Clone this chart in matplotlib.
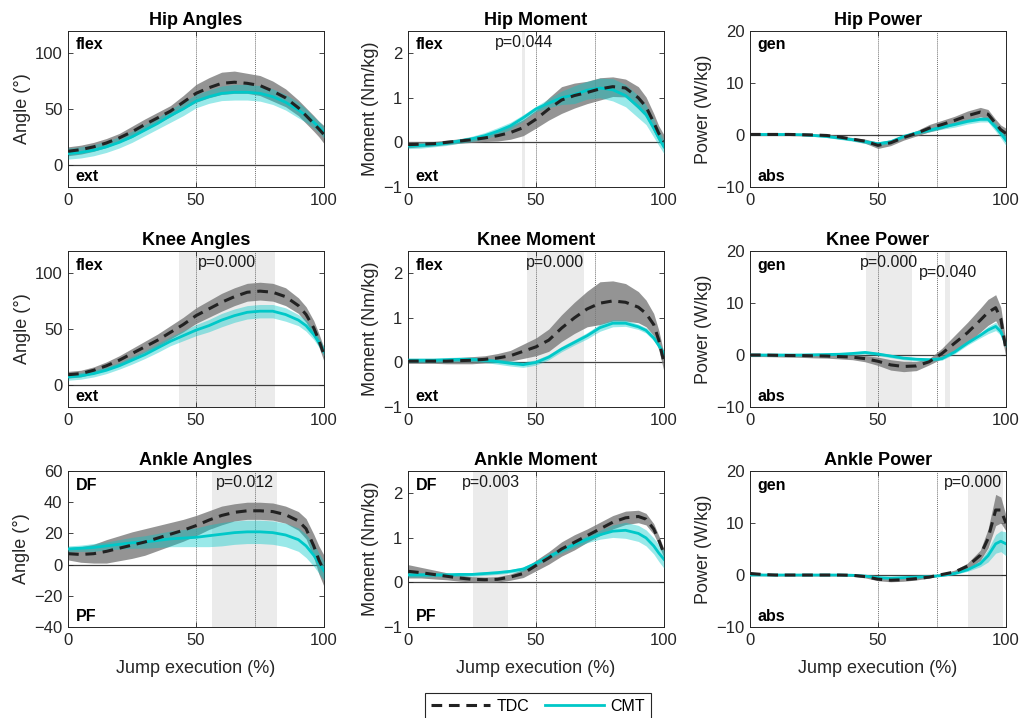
import matplotlib
matplotlib.use("Agg")
import matplotlib.pyplot as plt
import numpy as np

plt.rcParams["font.family"] = ["Liberation Sans", "DejaVu Sans"]

# Percent of jump execution where values were read
x = [0, 5, 10, 15, 20, 25, 30, 35, 40, 45, 50, 55, 60, 65, 70, 75, 80, 85, 90, 93, 96, 98, 100]

# Hip angles
hip_ang_tdc = [12, 13.5, 16, 19.5, 24, 29.5, 36, 42, 48, 56, 64, 69, 73, 74, 73, 71, 66, 60, 51, 44, 37, 32, 27]
hip_ang_tdc_sd = [4, 4, 4, 4, 4, 5, 5, 5, 5, 6, 8, 9, 10, 10, 9, 9, 9, 8, 7, 7, 7, 7, 8]
hip_ang_cmt = [10, 11, 13, 16, 20, 25, 31, 37, 44, 50, 57, 61, 64, 65, 65, 64, 61, 56, 49, 44, 38, 34, 29]
hip_ang_cmt_sd = [5, 5, 5, 5, 5, 5, 5, 5, 6, 6, 6, 6, 6.5, 7, 7, 7, 7, 7, 7, 6, 5, 5, 5]

# Hip moment
hip_mom_tdc = [-0.05, -0.04, -0.03, 0.0, 0.03, 0.06, 0.1, 0.15, 0.22, 0.33, 0.52, 0.75, 0.95, 1.05, 1.12, 1.2, 1.25, 1.22, 1.0, 0.8, 0.45, 0.2, 0.02]
hip_mom_tdc_sd = [0.07, 0.06, 0.05, 0.05, 0.05, 0.06, 0.08, 0.12, 0.15, 0.18, 0.2, 0.25, 0.3, 0.28, 0.25, 0.25, 0.22, 0.2, 0.25, 0.22, 0.2, 0.17, 0.15]
hip_mom_cmt = [-0.08, -0.07, -0.05, -0.02, 0.03, 0.08, 0.15, 0.25, 0.37, 0.55, 0.75, 0.88, 1.0, 1.07, 1.17, 1.22, 1.18, 1.05, 0.8, 0.62, 0.32, 0.1, -0.1]
hip_mom_cmt_sd = [0.06, 0.06, 0.05, 0.05, 0.05, 0.06, 0.07, 0.08, 0.08, 0.07, 0.06, 0.1, 0.15, 0.2, 0.2, 0.22, 0.25, 0.25, 0.25, 0.22, 0.2, 0.17, 0.15]

# Hip power
hip_pow_tdc = [0.1, 0.1, 0.1, 0.1, 0.05, 0.0, -0.1, -0.4, -0.8, -1.2, -2.0, -1.5, -0.5, 0.3, 1.3, 2.0, 2.8, 3.7, 4.4, 4.0, 2.2, 1.0, 0.3]
hip_pow_tdc_sd = [0.2, 0.2, 0.2, 0.2, 0.2, 0.2, 0.25, 0.3, 0.3, 0.4, 0.6, 0.55, 0.5, 0.5, 0.7, 0.8, 0.8, 0.9, 0.9, 0.9, 0.8, 0.9, 1.0]
hip_pow_cmt = [0.1, 0.1, 0.1, 0.1, 0.05, -0.1, -0.3, -0.6, -0.9, -1.3, -1.7, -1.3, -0.3, 0.4, 0.9, 1.5, 2.0, 2.6, 3.0, 3.0, 1.5, 0.3, -1.0]
hip_pow_cmt_sd = [0.15, 0.15, 0.15, 0.15, 0.15, 0.2, 0.2, 0.25, 0.3, 0.35, 0.4, 0.35, 0.3, 0.3, 0.35, 0.4, 0.5, 0.5, 0.5, 0.5, 0.8, 0.9, 1.0]

# Knee angles
knee_ang_tdc = [9, 10, 13, 17, 22, 28, 34, 40, 47, 54, 62, 68, 74, 79, 83, 84, 83, 79, 71, 63, 51, 40, 27]
knee_ang_tdc_sd = [3, 3, 3, 3.5, 4, 4.5, 5, 5.5, 6, 6.5, 7, 7.5, 8, 8, 8, 8, 8, 8, 7, 7, 6.5, 6, 6]
knee_ang_cmt = [7, 8, 10, 13, 17, 22, 27, 33, 39, 44, 49, 53, 58, 62, 65, 66, 66, 63, 58, 53, 45, 38, 30]
knee_ang_cmt_sd = [3, 3, 3, 3, 3, 3.5, 3.5, 4, 4, 4.5, 5, 5.5, 6, 6, 6, 6, 6, 6, 5, 5, 4.5, 4, 4]

# Knee moment
knee_mom_tdc = [0.03, 0.03, 0.03, 0.03, 0.04, 0.05, 0.07, 0.1, 0.15, 0.25, 0.35, 0.5, 0.77, 1.0, 1.2, 1.33, 1.38, 1.35, 1.24, 1.1, 0.85, 0.5, 0.0]
knee_mom_tdc_sd = [0.05, 0.05, 0.05, 0.06, 0.07, 0.08, 0.08, 0.1, 0.12, 0.16, 0.2, 0.25, 0.3, 0.35, 0.4, 0.48, 0.45, 0.42, 0.35, 0.3, 0.25, 0.22, 0.2]
knee_mom_cmt = [0.05, 0.05, 0.05, 0.06, 0.07, 0.07, 0.05, 0.02, -0.02, -0.05, 0.0, 0.12, 0.3, 0.45, 0.6, 0.78, 0.88, 0.88, 0.8, 0.72, 0.55, 0.38, 0.2]
knee_mom_cmt_sd = [0.05, 0.05, 0.05, 0.05, 0.05, 0.05, 0.05, 0.06, 0.06, 0.06, 0.06, 0.06, 0.06, 0.06, 0.07, 0.08, 0.08, 0.07, 0.06, 0.06, 0.06, 0.06, 0.06]

# Knee power
knee_pow_tdc = [0.0, 0.0, -0.05, -0.1, -0.1, -0.15, -0.2, -0.3, -0.4, -0.7, -1.2, -1.9, -2.2, -2.1, -1.3, 0.3, 2.3, 4.3, 6.7, 8.2, 9.1, 7.0, 1.0]
knee_pow_tdc_sd = [0.3, 0.3, 0.3, 0.3, 0.35, 0.4, 0.4, 0.45, 0.5, 0.6, 0.8, 1.0, 1.0, 0.9, 0.6, 1.0, 1.5, 2.0, 2.3, 2.5, 2.5, 2.2, 1.5]
knee_pow_cmt = [0.0, 0.0, 0.0, 0.0, 0.0, 0.05, 0.1, 0.15, 0.3, 0.5, 0.2, -0.2, -0.6, -0.8, -0.9, -0.7, 0.6, 2.3, 3.8, 4.8, 5.5, 4.5, 2.0]
knee_pow_cmt_sd = [0.2, 0.2, 0.2, 0.2, 0.2, 0.2, 0.2, 0.25, 0.25, 0.3, 0.3, 0.3, 0.3, 0.3, 0.3, 0.3, 0.35, 0.4, 0.5, 0.7, 0.8, 0.7, 0.6]

# Ankle angles
ank_ang_tdc = [7, 6.5, 7, 8.5, 10.5, 12.5, 14.5, 17, 19.5, 22, 25, 28.5, 31.5, 33.5, 34.5, 34.5, 34, 32, 28, 23, 12, 3, -4]
ank_ang_tdc_sd = [4, 5, 6, 7.5, 8, 8.5, 8.5, 8, 7.5, 7, 6.5, 6, 6, 5.5, 5.5, 5.5, 5.5, 5.5, 6, 6.5, 7.5, 9, 10]
ank_ang_cmt = [10, 10.5, 11, 12, 13, 14, 14.5, 15.5, 16.5, 17, 17.5, 18.5, 19.5, 20.5, 21, 21, 20.5, 19, 16, 12, 6, 1, -4]
ank_ang_cmt_sd = [2, 2, 2.5, 2.5, 3, 3.5, 4, 4.5, 5, 5.5, 6, 7, 7.5, 7.5, 7.5, 7.5, 7.5, 7.5, 7.5, 7.5, 7, 6.5, 6]

# Ankle moment
ank_mom_tdc = [0.25, 0.22, 0.18, 0.14, 0.1, 0.07, 0.06, 0.07, 0.12, 0.2, 0.38, 0.55, 0.75, 0.9, 1.05, 1.2, 1.35, 1.45, 1.48, 1.42, 1.2, 0.95, 0.65]
ank_mom_tdc_sd = [0.15, 0.12, 0.1, 0.08, 0.07, 0.06, 0.06, 0.06, 0.07, 0.09, 0.12, 0.14, 0.16, 0.17, 0.15, 0.15, 0.15, 0.15, 0.14, 0.13, 0.12, 0.1, 0.1]
ank_mom_cmt = [0.17, 0.17, 0.17, 0.17, 0.18, 0.18, 0.2, 0.22, 0.25, 0.3, 0.43, 0.58, 0.72, 0.85, 0.97, 1.07, 1.15, 1.17, 1.1, 1.0, 0.82, 0.66, 0.52]
ank_mom_cmt_sd = [0.05, 0.05, 0.04, 0.04, 0.04, 0.04, 0.04, 0.04, 0.04, 0.05, 0.05, 0.06, 0.06, 0.07, 0.08, 0.1, 0.14, 0.18, 0.18, 0.18, 0.18, 0.19, 0.2]

# Ankle power
ank_pow_tdc = [0.3, 0.1, 0.0, 0.0, 0.0, 0.0, 0.0, 0.0, -0.05, -0.3, -0.8, -1.0, -0.9, -0.7, -0.4, 0.1, 0.6, 1.7, 3.8, 7.0, 12.5, 12.5, 10.0]
ank_pow_tdc_sd = [0.3, 0.2, 0.15, 0.15, 0.15, 0.15, 0.15, 0.15, 0.2, 0.25, 0.3, 0.3, 0.3, 0.25, 0.2, 0.2, 0.35, 0.6, 1.0, 1.8, 3.0, 2.5, 1.5]
ank_pow_cmt = [0.0, 0.0, 0.0, 0.0, 0.0, 0.0, 0.0, 0.0, -0.05, -0.2, -0.5, -0.6, -0.5, -0.4, -0.3, -0.1, 0.3, 1.0, 2.2, 3.7, 6.0, 6.5, 6.0]
ank_pow_cmt_sd = [0.1, 0.1, 0.1, 0.1, 0.1, 0.1, 0.1, 0.1, 0.1, 0.15, 0.2, 0.2, 0.2, 0.15, 0.15, 0.15, 0.2, 0.3, 0.6, 1.2, 1.8, 2.0, 2.3]

# significant regions (start, end, label)
hip_mom_sig = [(44.7, 45.9, "p=0.044")]
knee_ang_sig = [(43.2, 80.9, "p=0.000")]
knee_mom_sig = [(46.4, 68.7, "p=0.000")]
knee_pow_sig = [(45.5, 63.5, "p=0.000"), (76.3, 78.3, "p=0.040")]
ank_ang_sig = [(56.3, 81.8, "p=0.012")]
ank_mom_sig = [(25.5, 39.0, "p=0.003")]
ank_pow_sig = [(85.0, 98.8, "p=0.000")]

event_lines = [50, 73]

panels = [
    ("Hip Angles", "Angle (°)", (-20, 120), [0, 50, 100], ("flex", "ext"),
     hip_ang_tdc, hip_ang_tdc_sd, hip_ang_cmt, hip_ang_cmt_sd, []),
    ("Hip Moment", "Moment (Nm/kg)", (-1, 2.5), [-1, 0, 1, 2], ("flex", "ext"),
     hip_mom_tdc, hip_mom_tdc_sd, hip_mom_cmt, hip_mom_cmt_sd, hip_mom_sig),
    ("Hip Power", "Power (W/kg)", (-10, 20), [-10, 0, 10, 20], ("gen", "abs"),
     hip_pow_tdc, hip_pow_tdc_sd, hip_pow_cmt, hip_pow_cmt_sd, []),
    ("Knee Angles", "Angle (°)", (-20, 120), [0, 50, 100], ("flex", "ext"),
     knee_ang_tdc, knee_ang_tdc_sd, knee_ang_cmt, knee_ang_cmt_sd, knee_ang_sig),
    ("Knee Moment", "Moment (Nm/kg)", (-1, 2.5), [-1, 0, 1, 2], ("flex", "ext"),
     knee_mom_tdc, knee_mom_tdc_sd, knee_mom_cmt, knee_mom_cmt_sd, knee_mom_sig),
    ("Knee Power", "Power (W/kg)", (-10, 20), [-10, 0, 10, 20], ("gen", "abs"),
     knee_pow_tdc, knee_pow_tdc_sd, knee_pow_cmt, knee_pow_cmt_sd, knee_pow_sig),
    ("Ankle Angles", "Angle (°)", (-40, 60), [-40, -20, 0, 20, 40, 60], ("DF", "PF"),
     ank_ang_tdc, ank_ang_tdc_sd, ank_ang_cmt, ank_ang_cmt_sd, ank_ang_sig),
    ("Ankle Moment", "Moment (Nm/kg)", (-1, 2.5), [-1, 0, 1, 2], ("DF", "PF"),
     ank_mom_tdc, ank_mom_tdc_sd, ank_mom_cmt, ank_mom_cmt_sd, ank_mom_sig),
    ("Ankle Power", "Power (W/kg)", (-10, 20), [-10, 0, 10, 20], ("gen", "abs"),
     ank_pow_tdc, ank_pow_tdc_sd, ank_pow_cmt, ank_pow_cmt_sd, ank_pow_sig),
]

axcol = "#262626"
cyan = "#00c8c8"

fig = plt.figure(figsize=(10.23, 7.18), dpi=100)
lefts = [0.0665, 0.3988, 0.7331]
bottoms = [0.7396, 0.4331, 0.1267]
w, h = 0.2502, 0.2173

xa = np.array(x)
for i, (title, ylab, ylim, yt, (up, down), tm, ts, cm, cs, sig) in enumerate(panels):
    r, c = divmod(i, 3)
    ax = fig.add_axes([lefts[c], bottoms[r], w, h])
    tm, ts, cm, cs = map(np.array, (tm, ts, cm, cs))

    for k, (s0, s1, lab) in enumerate(sig):
        ax.axvspan(s0, s1, color="#ebebeb", lw=0, zorder=0)
        xc = min((s0 + s1) / 2, 87)
        ax.text(xc, 0.925 - 0.065 * k, lab, transform=ax.get_xaxis_transform(),
                ha="center", va="center", fontsize=11.5, color="#1a1a1a", zorder=6)
    for ev in event_lines:
        ax.axvline(ev, color="#707070", ls=(0, (1, 1)), lw=0.7, zorder=1)
    ax.axhline(0, color="#404040", lw=0.9, zorder=1)

    ax.fill_between(xa, tm - ts, tm + ts, color="#7a7a7a", alpha=0.8, lw=0, zorder=2)
    ax.fill_between(xa, cm - cs, cm + cs, color=cyan, alpha=0.4, lw=0, zorder=3)
    ax.plot(xa, cm, color=cyan, lw=2.0, zorder=4, label="CMT")
    ax.plot(xa, tm, color="#222222", lw=2.2, ls=(0, (3.5, 2.2)), zorder=5, label="TDC")

    ax.set_xlim(0, 100)
    ax.set_ylim(*ylim)
    ax.set_xticks([0, 50, 100])
    ax.set_yticks(yt)
    ax.tick_params(direction="in", top=True, right=True, length=3.5, width=0.6,
                   labelsize=12, colors=axcol, pad=4)
    for sp in ax.spines.values():
        sp.set_color(axcol)
        sp.set_linewidth(0.7)
    ax.set_title(title, fontsize=13, fontweight="bold", color="black", pad=4)
    ax.set_ylabel(ylab, fontsize=13, color=axcol, labelpad=3)
    if r == 2:
        ax.set_xlabel("Jump execution (%)", fontsize=13, color=axcol, labelpad=9)
    ax.text(0.03, 0.91, up, transform=ax.transAxes, fontsize=11.5, fontweight="bold",
            ha="left", va="center", zorder=7)
    ax.text(0.03, 0.07, down, transform=ax.transAxes, fontsize=11.5, fontweight="bold",
            ha="left", va="center", zorder=7)

handles, labels = ax.get_legend_handles_labels()
leg = fig.legend(handles[::-1], labels[::-1], loc="upper center", ncol=2,
                 bbox_to_anchor=(538 / 1023, 1 - 693 / 718), fontsize=11.5,
                 handlelength=3.7, columnspacing=1.0, handletextpad=0.4,
                 fancybox=False, edgecolor="#262626", framealpha=1,
                 borderpad=0.35, borderaxespad=0)
leg.get_frame().set_linewidth(0.8)

fig.savefig("out.png", dpi=100)
